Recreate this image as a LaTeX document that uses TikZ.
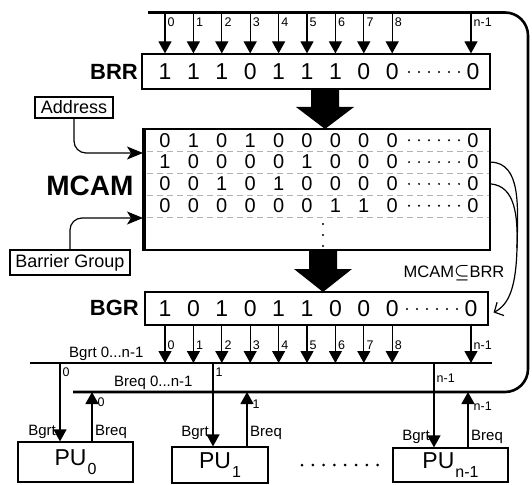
\documentclass[tikz,border=0pt]{standalone}
\usepackage{amsmath,amssymb}
\usepackage{fontspec}
\setmainfont{Liberation Sans}
\usetikzlibrary{arrows.meta,calc}

\tikzset{
  regbox/.style={draw,line width=1.2pt,inner sep=0pt},
  lblbox/.style={draw,line width=1.1pt,inner sep=0pt,font=\fontsize{18}{18}\selectfont},
  bit/.style={font=\fontsize{23}{23}\selectfont,inner sep=0pt},
  cambit/.style={font=\fontsize{20}{20}\selectfont,inner sep=0pt},
  regname/.style={font=\fontsize{22}{22}\selectfont\bfseries,inner sep=0pt},
  idx/.style={font=\fontsize{12.5}{12.5}\selectfont,inner sep=0.5pt},
  sname/.style={font=\fontsize{15}{15}\selectfont,inner sep=1pt},
  sig/.style={line width=1.2pt,-{Triangle[length=12pt,width=13pt]}},
  inarrow/.style={line width=1.2pt,rounded corners=12pt,-{Stealth[length=16pt,width=13pt,inset=4pt]}},
  bus/.style={line width=2.6pt},
  rowsep/.style={gray!60,line width=0.4pt,dash pattern=on 6pt off 4pt}
}
\newcommand{\pu}[1]{PU\kern1pt\raisebox{-0.4em}{\fontsize{16}{16}\selectfont #1}}

\begin{document}
\begin{tikzpicture}[x=1pt,y=-1pt]
  \useasboundingbox (0,0) rectangle (532,484);

  % BRR register fed from the request bus
  \node[regbox,minimum width=348pt,minimum height=35pt] (brr) at (316,71.5) {};
  \node[regname,anchor=east] (brrl) at (138,72) {BRR};
  \foreach \v [count=\i from 0] in {1,1,1,0,1,1,1,0,0}
    \node[bit] (brr\i) at (165+28.4*\i,71.5) {\v};
  \node[bit] (brrn) at (473,71.5) {0};
  \foreach \k in {0,...,5} \fill (409+10*\k,72) circle (1.1pt);

  \coordinate (busw) at (148,12.5);
  \coordinate (busne) at (528,12.5);
  \coordinate (busse) at (528,392);
  \coordinate (breqw) at (73,392);
  \draw[bus,rounded corners=23pt] (busw) -- (busne) -- (busse) -- (breqw);
  \foreach \i in {0,...,8} {
    \coordinate (tb\i) at (brr\i |- busw);
    \draw[sig] (tb\i) -- (tb\i |- brr.north);
    \node[idx,anchor=west] (tl\i) at ($(tb\i)+(2,10)$) {\i};
  }
  \coordinate (tbn) at (471,12.5);
  \draw[sig] (tbn) -- (tbn |- brr.north);
  \node[idx,anchor=west] (tln) at ($(tbn)+(2,10)$) {n-1};

  \fill (311,89) -- (339,89) -- (339,107) -- (354,107) -- (325,129) -- (296,107) -- (311,107) -- cycle;

  % MCAM
  \node[regbox,minimum width=345pt,minimum height=121pt] (mcam) at (317.5,189.5) {};
  \draw[line width=4pt] (mcam.north west) -- (mcam.south west);
  \node[font=\fontsize{28}{28}\selectfont\bfseries,anchor=east] (mcaml) at (137,186) {MCAM};
  \foreach \row [count=\r] in {{0,1,0,1,0,0,0,0,0},{1,0,0,0,0,1,0,0,0},{0,0,1,0,1,0,0,0,0},{0,0,0,0,0,0,1,1,0}} {
    \foreach \v [count=\i from 0] in \row
      \node[cambit] (cam\r-\i) at (165+28.4*\i,118.5+21.8*\r) {\v};
    \node[cambit] (cam\r-n) at (473,118.5+21.8*\r) {0};
    \foreach \k in {0,...,5} \fill (409+10*\k,118.5+21.8*\r) circle (1.1pt);
    \draw[rowsep] ($(mcam.west |- cam\r-0)+(3,11)$) -- ($(mcam.east |- cam\r-0)+(-2,11)$);
  }
  \foreach \y in {224,235,246} \fill (323,\y) circle (1.2pt);

  \node[lblbox,minimum width=78pt,minimum height=21pt] (addr) at (74,107.5) {Address};
  \node[lblbox,minimum width=120pt,minimum height=25pt] (bgrp) at (70,262.5) {Barrier Group};
  \coordinate (ain) at (143,153);
  \coordinate (gin) at (143,218);
  \draw[inarrow] (addr.south) |- (ain);
  \draw[inarrow] (bgrp.north) |- (gin);

  \fill (309,250) -- (337,250) -- (337,269) -- (352,269) -- (323,292) -- (294,269) -- (309,269) -- cycle;

  % BGR register
  \node[regbox,minimum width=343pt,minimum height=33pt] (bgr) at (316.5,308.5) {};
  \node[regname,anchor=east] (bgrl) at (139,308) {BGR};
  \foreach \v [count=\i from 0] in {1,0,1,0,1,1,0,0,0}
    \node[bit] (bgr\i) at (165+28.4*\i,308.5) {\v};
  \node[bit] (bgrn) at (471,308.5) {0};
  \foreach \k in {0,...,5} \fill (407+10*\k,309) circle (1.1pt);

  \coordinate (m2) at (mcam.east |- cam2-n);
  \coordinate (m3) at (mcam.east |- cam3-n);
  \coordinate (mj) at (517,248);
  \coordinate (bgrin) at ($(bgr.east)+(5,4)$);
  \draw[line width=1.2pt] (m2) .. controls (521,163) and (518,205) .. (mj);
  \draw[line width=1.2pt,-{Straight Barb[length=7pt,width=15pt]}] (m3) .. controls (515,186) and (518,215) .. (mj)
    .. controls (516,285) and (510,304) .. (bgrin);
  \node[font=\fontsize{16.5}{16.5}\selectfont,inner sep=0pt] (incl) at (454,273) {MCAM$\boldsymbol{\subseteq}$BRR};

  % grant and request lines
  \coordinate (bgrtw) at (30,363);
  \coordinate (bgrte) at (492,363);
  \draw[bus] (bgrtw) -- (bgrte);
  \node[sname,anchor=base west] (bgrtl) at (68,357) {Bgrt 0...n-1};
  \node[sname,anchor=base west] (breql) at (113,386) {Breq 0...n-1};
  \foreach \i in {0,...,8} {
    \draw[sig] (bgr\i |- bgr.south) -- (bgr\i |- bgrtw);
    \node[idx,anchor=west] (bl\i) at ($(bgr\i |- bgr.south)+(2,20)$) {\i};
  }
  \draw[sig] (bgrn |- bgr.south) -- (bgrn |- bgrtw);
  \node[idx,anchor=west] (bln) at ($(bgrn |- bgr.south)+(2,20)$) {n-1};

  % processing units
  \node[regbox,minimum width=115pt,minimum height=40pt,font=\fontsize{23}{23}\selectfont] (pu0) at (75.5,462) {\pu{0}};
  \node[regbox,minimum width=96pt,minimum height=36pt,font=\fontsize{23}{23}\selectfont] (pu1) at (220,465) {\pu{1}};
  \node[regbox,minimum width=115pt,minimum height=34pt,font=\fontsize{23}{23}\selectfont] (pun) at (450.5,465) {\pu{n-1}};
  \foreach \k in {0,...,7} \fill (302+10.8*\k,465) circle (1.5pt);

  \coordinate (g0) at (60,363);   \coordinate (r0) at (92,392);
  \coordinate (g1) at (213,363);  \coordinate (r1) at (247,392);
  \coordinate (gn) at (434,363);  \coordinate (rn) at (468,392);
  \draw[sig] (g0) -- (g0 |- pu0.north);
  \draw[sig] (r0 |- pu0.north) -- (r0);
  \draw[sig] (g1) -- (g1 |- pu1.north);
  \draw[sig] (r1 |- pu1.north) -- (r1);
  \draw[sig] (gn) -- (gn |- pun.north);
  \draw[sig] (rn |- pun.north) -- (rn);

  \node[idx,anchor=west] (g0i) at ($(g0)+(2,9)$) {0};
  \node[idx,anchor=west] (r0i) at ($(r0)+(5,10)$) {0};
  \node[idx,anchor=west] (g1i) at ($(g1)+(2,9)$) {1};
  \node[idx,anchor=west] (r1i) at ($(r1)+(5,12)$) {1};
  \node[idx,anchor=west] (gni) at ($(gn)+(2,15)$) {n-1};
  \node[idx,anchor=west] (rni) at ($(rn)+(5,14)$) {n-1};

  \node[sname,anchor=east] (bg0) at (57,432) {Bgrt};
  \node[sname,anchor=west] (bq0) at (94,432) {Breq};
  \node[sname,anchor=east] (bg1) at (210,433) {Bgrt};
  \node[sname,anchor=west] (bq1) at (249,433) {Breq};
  \node[sname,anchor=east] (bgn) at (431,437) {Bgrt};
  \node[sname,anchor=west] (bqn) at (470,437) {Breq};
\end{tikzpicture}
\end{document}
